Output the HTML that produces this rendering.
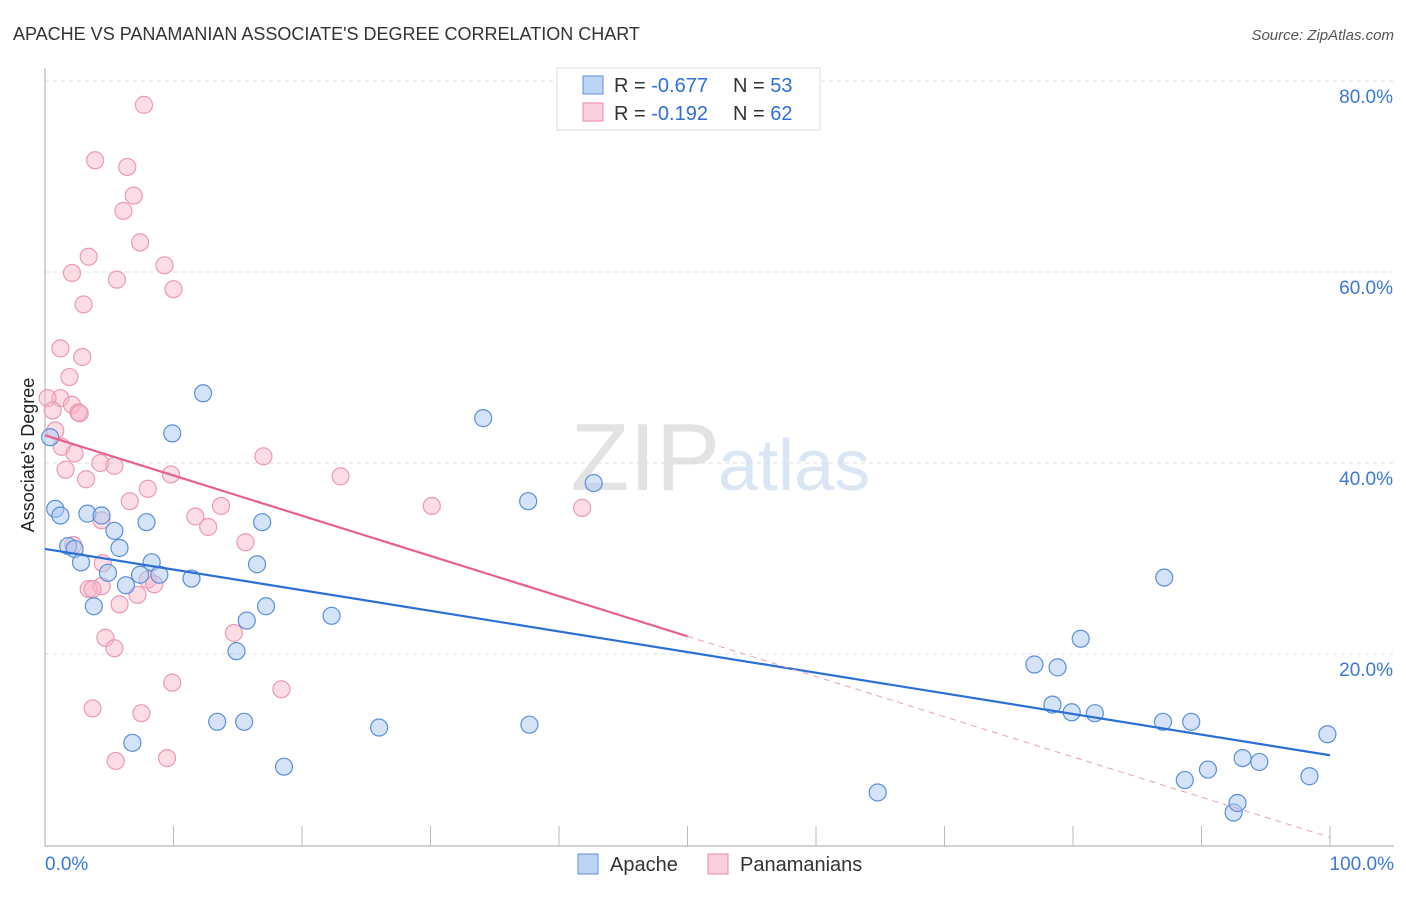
<!DOCTYPE html>
<html><head><meta charset="utf-8"><style>
body{margin:0;background:#fff;font-family:"Liberation Sans",sans-serif;}
svg text{font-family:"Liberation Sans",sans-serif;}
</style></head><body>
<svg id="c" width="1406" height="892" xmlns="http://www.w3.org/2000/svg">
<text x="13" y="40" font-size="18" fill="#333">APACHE VS PANAMANIAN ASSOCIATE'S DEGREE CORRELATION CHART</text>
<text x="1394" y="40" font-size="15" fill="#555" text-anchor="end" font-style="italic">Source: ZipAtlas.com</text>
<text x="720" y="490" font-size="96" fill="#e3e3e6" text-anchor="end" font-family="Liberation Serif">ZIP</text>
<text x="718" y="490" font-size="72" fill="#dbe6f5">atlas</text>
<g id="grid"></g>
<g id="axes"></g>
<g id="pts"></g>
<g id="lines"></g>
<text transform="translate(34,455) rotate(-90)" font-size="18" fill="#222" text-anchor="middle">Associate's Degree</text>
<g>
<rect x="557" y="68" width="263" height="62" fill="#fff" stroke="#ddd"/>
<rect x="583" y="76" width="20" height="18" fill="#bcd4f5" stroke="#5b8fd9"/>
<rect x="583" y="103" width="20" height="18" fill="#fbd0dc" stroke="#e88aa6"/>
<text x="614" y="92" font-size="20" fill="#333">R = <tspan fill="#2f6fd6">-0.677</tspan></text>
<text x="733" y="92" font-size="20" fill="#333">N = <tspan fill="#2f6fd6">53</tspan></text>
<text x="614" y="120" font-size="20" fill="#333">R = <tspan fill="#2f6fd6"> -0.192</tspan></text>
<text x="733" y="120" font-size="20" fill="#333">N = <tspan fill="#2f6fd6">62</tspan></text>
</g>
<g>
<rect x="578" y="854" width="20" height="20" fill="#bcd4f5" stroke="#5b8fd9"/>
<text x="610" y="871" font-size="20" fill="#333">Apache</text>
<rect x="708" y="854" width="20" height="20" fill="#fbd0dc" stroke="#e88aa6"/>
<text x="740" y="871" font-size="20" fill="#333">Panamanians</text>
</g>
</svg>
<script>
const yTicks=[20,40,60,80];
const yTickLabels=["20.0%","40.0%","60.0%","80.0%"];
const apacheX=[0.8,1.2,1.8,2.3,2.8,3.3,3.8,4.4,4.9,5.4,5.8,6.3,6.8,7.4,7.9,8.3,8.9,9.9,11.4,12.3,13.4,14.9,15.5,15.7,16.5,16.9,17.2,18.6,22.3,26.0,34.1,37.6,37.7,42.7,64.8,77.0,78.4,78.8,79.9,80.6,81.7,87.0,87.1,88.7,89.2,90.5,92.5,92.8,93.2,94.5,98.4,99.8,0.4];
const apacheY=[35.2,34.5,31.3,31.0,29.6,34.7,25.0,34.5,28.5,32.9,31.1,27.2,10.7,28.3,33.8,29.6,28.3,43.1,27.9,47.3,12.9,20.3,12.9,23.5,29.4,33.8,25.0,8.2,24.0,12.3,44.7,36.0,12.6,37.9,5.5,18.9,14.7,18.6,13.9,21.6,13.8,12.9,28.0,6.8,12.9,7.9,3.4,4.4,9.1,8.7,7.2,11.6,42.7];
const panX=[7.7,3.9,6.4,6.9,6.1,7.4,3.4,2.1,5.6,9.3,10.0,3.0,1.2,2.9,1.9,1.2,0.2,2.1,0.6,2.6,2.7,0.8,1.3,2.3,1.6,3.2,4.3,5.4,9.8,8.0,17.0,23.0,30.1,41.8,6.6,11.7,13.7,12.7,4.4,2.2,4.5,4.4,3.4,3.7,5.8,7.2,8.0,8.5,15.6,14.7,4.7,5.4,9.9,18.4,3.7,7.5,5.5,9.5];
const panY=[77.5,71.7,71.0,68.0,66.4,63.1,61.6,59.9,59.2,60.7,58.2,56.6,52.0,51.1,49.0,46.8,46.8,46.1,45.5,45.3,45.2,43.4,41.7,41.0,39.3,38.3,40.0,39.7,38.8,37.3,40.7,38.6,35.5,35.3,36.0,34.4,35.5,33.3,34.0,31.4,29.5,27.1,26.8,26.8,25.2,26.2,27.8,27.3,31.7,22.2,21.7,20.6,17.0,16.3,14.3,13.8,8.8,9.1];
const apacheLine=[31.0,9.4];
const panLine=[42.9,0.8];
const X=v=>45+v*12.85, Y=v=>845-v*9.55;
const NS="http://www.w3.org/2000/svg";
function mk(tag,at,parent){const e=document.createElementNS(NS,tag);for(const k in at)e.setAttribute(k,at[k]);document.getElementById(parent).appendChild(e);return e;}
yTicks.forEach((t,i)=>{
 const g=mk('line',{x1:45,x2:1394,y1:Y(t),y2:Y(t),stroke:'#ddd','stroke-dasharray':'4,4'},'grid');
 
 
 const l=mk('text',{x:1393,y:Y(t)+22,'font-size':19,fill:'#3a78d8','text-anchor':'end'},'axes');
 l.textContent=yTickLabels[i];
 
 
});
const ax=mk('line',{x1:45,x2:45,y1:68,y2:846,stroke:'#aaa'},'axes');


const bx=mk('line',{x1:45,x2:1394,y1:846,y2:846,stroke:'#aaa'},'axes');


for(let i=1;i<=10;i++){const t=mk('line',{x1:45+i*128.5,x2:45+i*128.5,y1:826,y2:846,stroke:'#bbb'},'axes');
 
 }
[["0.0%",45,'start'],["100.0%",1394,'end']].forEach(a=>{const t=mk('text',{x:a[1],y:870,'font-size':19,fill:'#3a78d8','text-anchor':a[2]},'axes');t.textContent=a[0];
 
 });
panX.forEach((v,i)=>{const c=mk('circle',{cx:X(v),cy:Y(panY[i]),r:8.5,fill:'rgba(248,180,200,0.45)',stroke:'#eb9ab2','stroke-width':1.2},'pts');
 
 });
apacheX.forEach((v,i)=>{const c=mk('circle',{cx:X(v),cy:Y(apacheY[i]),r:8.5,fill:'rgba(170,200,240,0.5)',stroke:'#5b8fd9','stroke-width':1.2},'pts');
 
 });
const bl=mk('line',{x1:X(0),y1:Y(apacheLine[0]),x2:X(100),y2:Y(apacheLine[1]),stroke:'#2b6fd6','stroke-width':2.2},'lines');


const pAt=v=>panLine[0]+(panLine[1]-panLine[0])*v/100;
const pl=mk('line',{x1:X(0),y1:Y(pAt(0)),x2:X(50),y2:Y(pAt(50)),stroke:'#e8608c','stroke-width':2.2},'lines');


const pd=mk('line',{x1:X(50),y1:Y(pAt(50)),x2:X(100),y2:Y(pAt(100)),stroke:'#e8a0b6','stroke-width':1,'stroke-dasharray':'6,5'},'lines');


</script>
</body></html>
